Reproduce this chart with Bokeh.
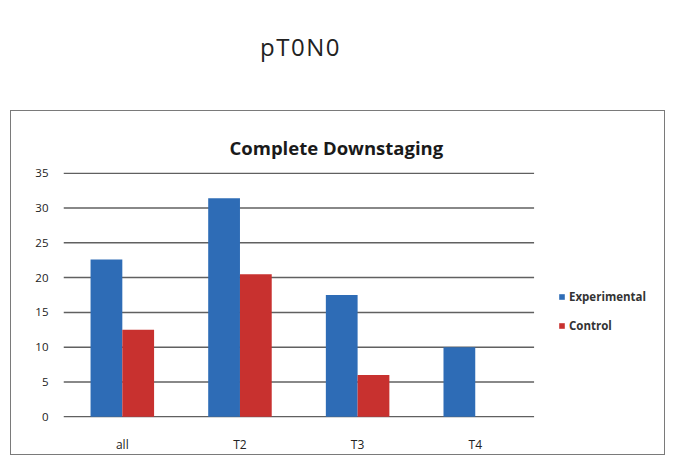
from bokeh.plotting import figure
from bokeh.models import ColumnDataSource, Legend, LegendItem, Div, Range1d, FixedTicker, Title
from bokeh.transform import dodge
from bokeh.layouts import column
from bokeh.embed import file_html
from bokeh.resources import INLINE

# ---- data ----
categories = ["all", "T2", "T3", "T4"]
experimental = [22.6, 31.4, 17.5, 10.0]
control = [12.5, 20.5, 6.0, 0.0]
y_ticks = [0, 5, 10, 15, 20, 25, 30, 35]
page_title = "pT0N0"
chart_title = "Complete Downstaging"
series_names = ["Experimental", "Control"]

BLUE = "#2e6cb6"
RED = "#c8312f"
GRID = "#606060"
FONT = "Open Sans"

n = len(categories)
pos = [i + 0.5 for i in range(n)]
src = ColumnDataSource(dict(pos=pos, exp=experimental, ctl=control))
grid_src = ColumnDataSource(dict(y=y_ticks, x0=[0] * len(y_ticks), x1=[n] * len(y_ticks)))

# frame spans categories (469 px) plus room for the legend on the right
FRAME_W = 596
CAT_W = 469
p = figure(x_range=Range1d(0, n * FRAME_W / CAT_W), y_range=Range1d(-0.12, 35.12),
           width=655, height=345, output_backend="svg", toolbar_location=None,
           min_border_left=52, min_border_right=5, min_border_top=61, min_border_bottom=39)

t = Title(text=chart_title, align="left", offset=166, text_font=FONT, text_font_size="18.5px",
          text_font_style="bold", text_color="#1a1a1a", standoff=24, vertical_align="middle")
p.add_layout(t, "above")

# horizontal gridlines, limited to the category area
p.segment(x0="x0", x1="x1", y0="y", y1="y", source=grid_src, line_color=GRID, line_width=1.5)

r1 = p.vbar(x=dodge("pos", -0.135), top="exp", width=0.27, source=src,
            fill_color=BLUE, line_color=None)
r2 = p.vbar(x=dodge("pos", 0.135), top="ctl", width=0.27, source=src,
            fill_color=RED, line_color=None)

legend = Legend(items=[LegendItem(label=series_names[0], renderers=[r1]),
                       LegendItem(label=series_names[1], renderers=[r2])],
                location=(495, 84), padding=0, margin=0, spacing=14,
                glyph_width=7, glyph_height=7, label_height=14, label_standoff=4,
                label_text_font=FONT, label_text_font_size="11.5px", label_text_font_style="bold",
                label_text_color="#333333", border_line_color=None, background_fill_alpha=0)
p.add_layout(legend)

p.outline_line_color = None
p.xgrid.grid_line_color = None
p.ygrid.grid_line_color = None
p.yaxis.ticker = FixedTicker(ticks=y_ticks)
p.xaxis.ticker = FixedTicker(ticks=pos)
p.xaxis.major_label_overrides = {x: c for x, c in zip(pos, categories)}
for ax in (p.xaxis, p.yaxis):
    ax.axis_line_color = None
    ax.major_tick_line_color = None
    ax.minor_tick_line_color = None
    ax.major_label_text_font = FONT
    ax.major_label_text_color = "#222222"
p.xaxis.major_label_text_font_size = "12px"
p.yaxis.major_label_text_font_size = "11.5px"
p.xaxis.major_label_standoff = 12
p.yaxis.major_label_standoff = 9
p.styles = {"border": "1px solid #7a7a7a"}
p.margin = (0, 0, 0, 10)

head = Div(text=page_title, width=657, height=100,
           styles={"font-family": FONT, "font-size": "24px", "letter-spacing": "1.5px",
                   "color": "#222222", "padding-left": "255px", "padding-top": "25px",
                   "box-sizing": "border-box"})

layout = column(head, p, spacing=0)
open("out.html", "w").write(file_html(layout, INLINE))
